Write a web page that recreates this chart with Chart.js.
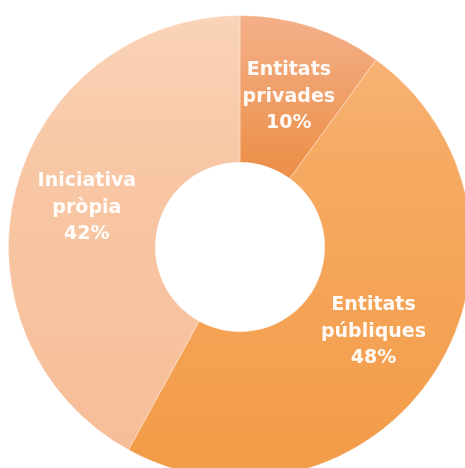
<!DOCTYPE html>
<html>
<head>
<meta charset="utf-8">
<script src="https://cdn.jsdelivr.net/npm/chart.js@4.4.1/dist/chart.umd.min.js"></script>
<style>
    html, body { margin: 0; padding: 0; background: #fff; overflow: hidden; }
    body { width: 465px; height: 468px; position: relative; }
    #wrap { position: absolute; left: 8px; top: 15px; width: 464px; height: 464px; }
</style>
</head>
<body>
<div id="wrap"><canvas id="donut"></canvas></div>
<script>
// dades del gràfic
const categories = ["Entitats privades", "Entitats públiques", "Iniciativa pròpia"];
const labelLines = [["Entitats", "privades"], ["Entitats", "públiques"], ["Iniciativa", "pròpia"]];
const percents = [10, 48, 42];

// colors de cada tall (degradat vertical: dalt, mig, baix)
const topColors = ["#f4b08a", "#f8b67d", "#fad3b8"];
const midColors = ["#ec914b", "#f6aa62", "#f8c7a5"];
const bottomColors = ["#e4772a", "#f29b47", "#f6bd97"];

function sliceGradient(context) {
    const chart = context.chart;
    const area = chart.chartArea;
    const i = context.dataIndex;
    if (!area) return topColors[i];
    const g = chart.ctx.createLinearGradient(0, area.top, 0, area.bottom);
    g.addColorStop(0, topColors[i]);
    g.addColorStop(0.32, midColors[i]);
    g.addColorStop(1, bottomColors[i]);
    return g;
}

const sliceLabels = {
    id: "sliceLabels",
    afterDatasetsDraw(chart) {
        const ctx = chart.ctx;
        const meta = chart.getDatasetMeta(0);
        ctx.save();
        ctx.fillStyle = "rgba(255,255,255,0.95)";
        ctx.font = "bold 19px 'DejaVu Sans'";
        ctx.textAlign = "center";
        ctx.textBaseline = "middle";
        const lineH = 26.5;
        meta.data.forEach((arc, i) => {
            const p = arc.getCenterPoint();
            const lines = labelLines[i].concat([percents[i] + "%"]);
            const y0 = p.y - (lines.length - 1) * lineH / 2;
            lines.forEach((t, k) => ctx.fillText(t, p.x, y0 + k * lineH));
        });
        ctx.restore();
    }
};

new Chart(document.getElementById("donut").getContext("2d"), {
    type: "doughnut",
    data: {
        labels: categories,
        datasets: [{
            data: percents,
            backgroundColor: sliceGradient,
            borderColor: "rgba(255,255,255,0.3)",
            borderWidth: 1,
        }],
    },
    options: {
        responsive: true,
        maintainAspectRatio: false,
        animation: false,
        cutout: "36.6%",
        layout: { padding: 0 },
        plugins: {
            legend: { display: false },
            tooltip: { enabled: false },
        },
    },
    plugins: [sliceLabels],
});
</script>
</body>
</html>
